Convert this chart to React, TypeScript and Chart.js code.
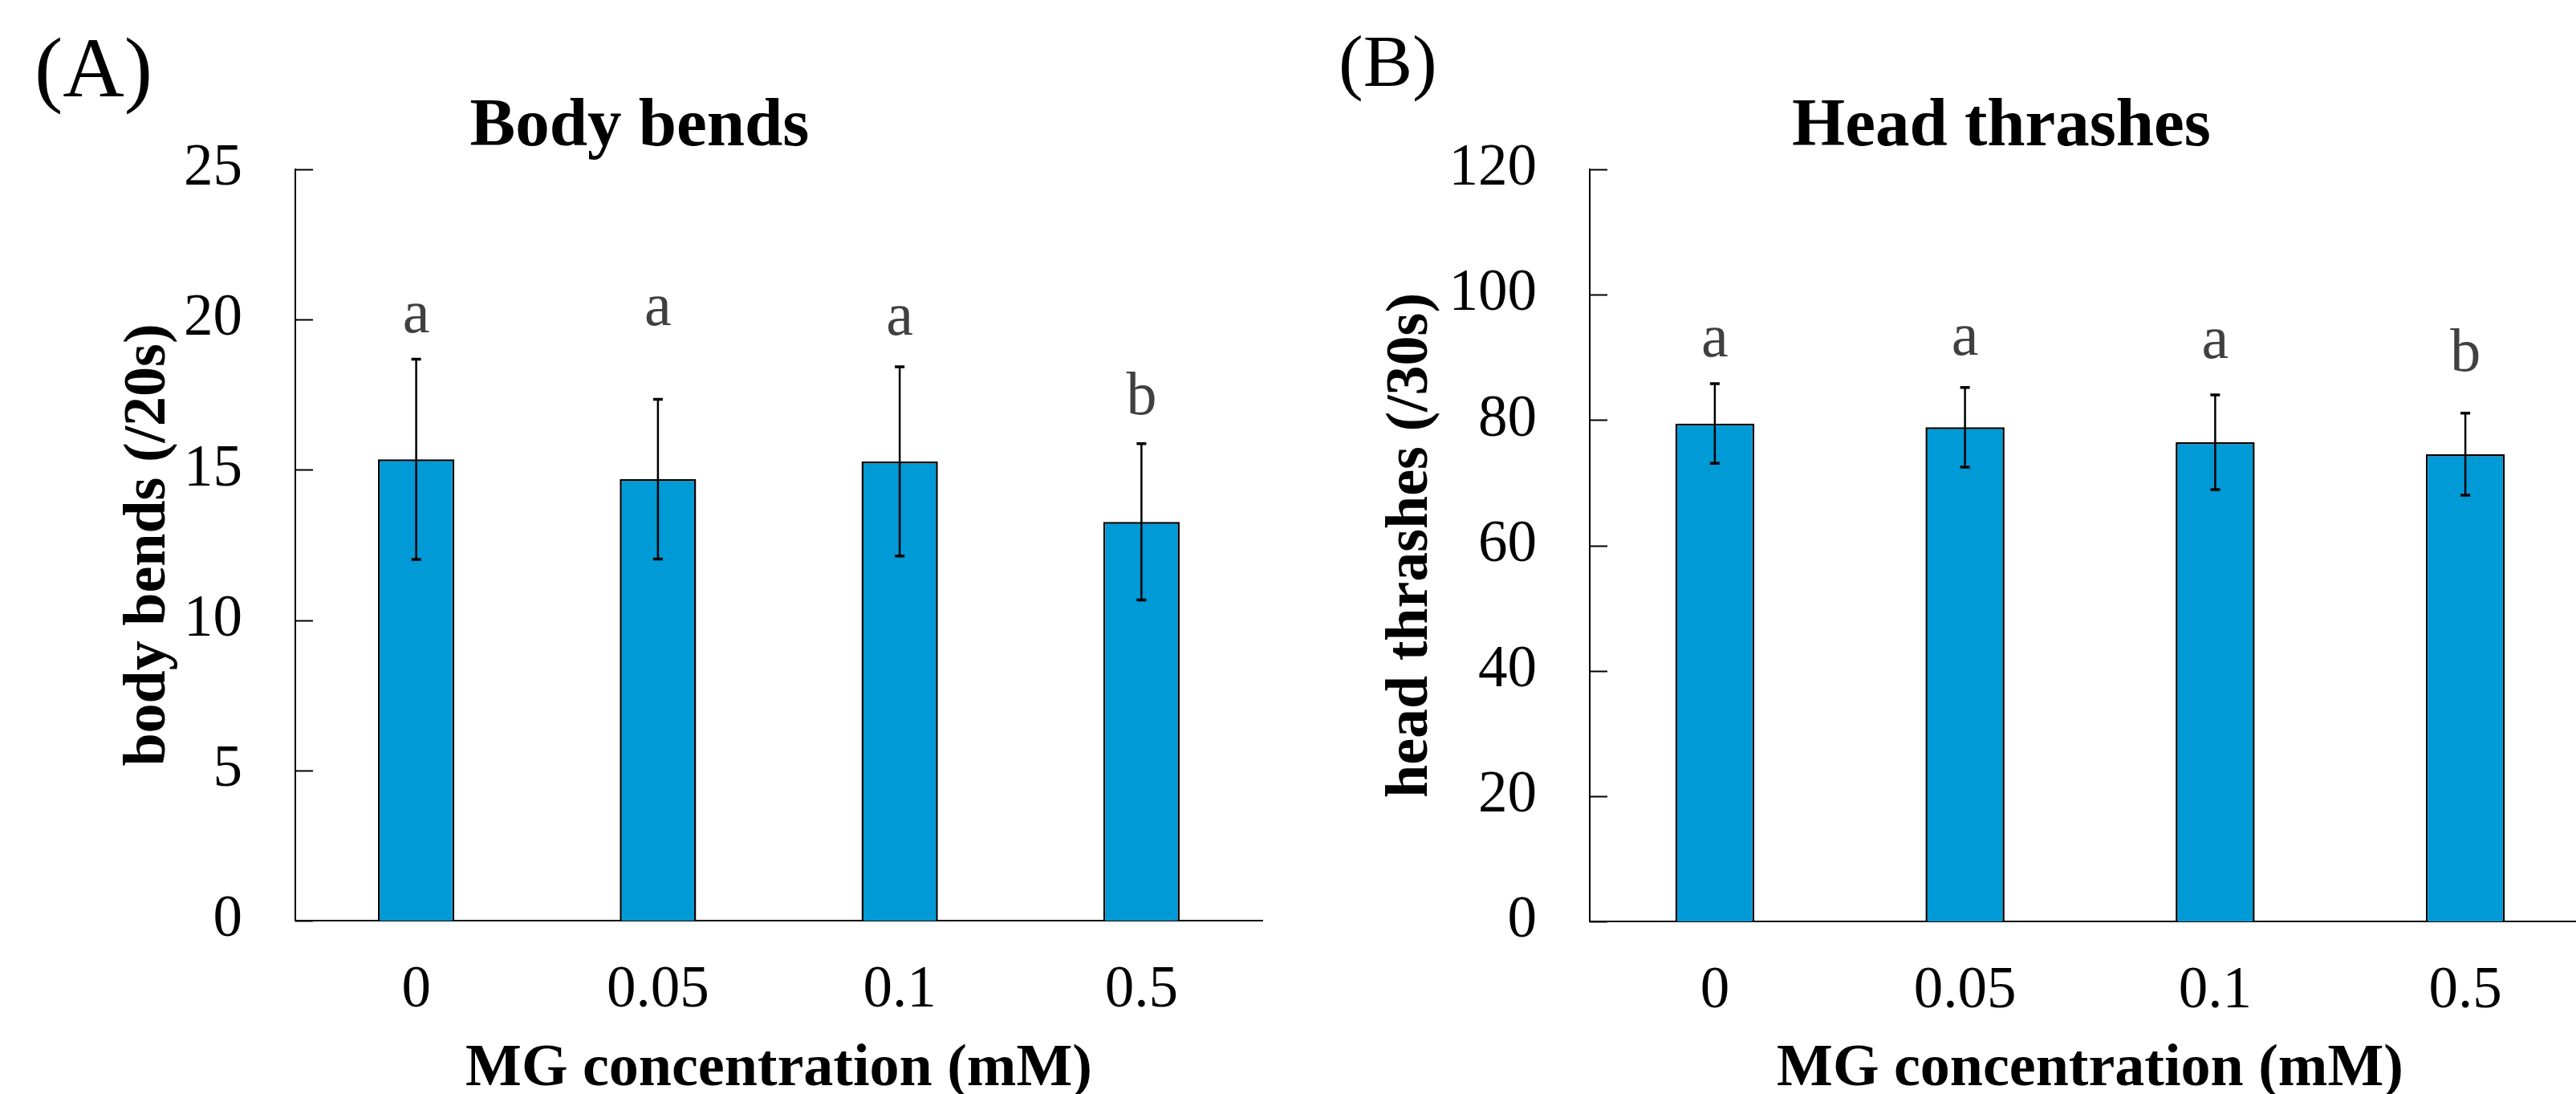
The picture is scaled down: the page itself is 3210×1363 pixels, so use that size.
import React, { useEffect, useRef } from 'react';
import { Chart, registerables } from 'chart.js';

Chart.register(...registerables);

// ---------- data ----------
const categories = ['0', '0.05', '0.1', '0.5'];

const bodyBendsMean = [15.35, 14.69, 15.28, 13.27];
const bodyBendsSD = [3.33, 2.66, 3.15, 2.6];
const bodyBendsLetters = ['a', 'a', 'a', 'b'];
const bodyBendsLetterY = [19.58, 19.82, 19.5, 16.85];
const bodyBendsAxis = { min: 0, max: 25, step: 5 };

const headThrashMean = [79.45, 78.85, 76.45, 74.55];
const headThrashSD = [6.35, 6.35, 7.55, 6.55];
const headThrashLetters = ['a', 'a', 'a', 'b'];
const headThrashLetterY = [90.2, 90.4, 89.9, 87.9];
const headThrashAxis = { min: 0, max: 120, step: 20 };

const FONT = '"Liberation Serif", "Times New Roman", Times, serif';
const BAR_COLOR = '#009ad6';

type Panel = {
  width: number;
  height: number;
  areaLeft: number;
  areaRight: number;
  areaTop: number;
  areaBottom: number;
  means: number[];
  sd: number[];
  letters: string[];
  letterY: number[];
  axis: { min: number; max: number; step: number };
  title: string;
  titleX: number;
  panel: string;
  panelX: number;
  panelY: number;
  panelSize: number;
  yTitle: string;
  yTitleX: number;
  xTitle: string;
};

function buildChart(canvas: HTMLCanvasElement, p: Panel) {
  const overlay = {
    id: 'overlay',
    afterDatasetsDraw(chart: any) {
      const ctx = chart.ctx as CanvasRenderingContext2D;
      const xs = chart.scales.x;
      const ys = chart.scales.y;
      const area = chart.chartArea;
      ctx.save();
      ctx.strokeStyle = '#000';
      // error bars
      p.means.forEach((m, i) => {
        const px = xs.getPixelForValue(i);
        const top = ys.getPixelForValue(m + p.sd[i]);
        const bot = ys.getPixelForValue(m - p.sd[i]);
        ctx.lineWidth = 2.5;
        ctx.beginPath();
        ctx.moveTo(px, top);
        ctx.lineTo(px, bot);
        ctx.stroke();
        ctx.lineWidth = 3.5;
        ctx.beginPath();
        ctx.moveTo(px - 6, top);
        ctx.lineTo(px + 6, top);
        ctx.moveTo(px - 6, bot);
        ctx.lineTo(px + 6, bot);
        ctx.stroke();
      });
      // inward tick marks on y axis
      ctx.lineWidth = 2;
      ys.ticks.forEach((t: any) => {
        const py = Math.round(ys.getPixelForValue(t.value)) + 0.5;
        ctx.beginPath();
        ctx.moveTo(area.left, py);
        ctx.lineTo(area.left + 22, py);
        ctx.stroke();
      });
      // significance letters
      ctx.fillStyle = '#404040';
      ctx.font = `76px ${FONT}`;
      ctx.textAlign = 'center';
      ctx.textBaseline = 'alphabetic';
      p.letters.forEach((l, i) => {
        ctx.fillText(l, xs.getPixelForValue(i), ys.getPixelForValue(p.letterY[i]));
      });
      ctx.restore();
    },
    afterDraw(chart: any) {
      const ctx = chart.ctx as CanvasRenderingContext2D;
      const area = chart.chartArea;
      ctx.save();
      ctx.fillStyle = '#000';
      ctx.textBaseline = 'alphabetic';
      // panel label
      ctx.font = `${p.panelSize}px ${FONT}`;
      ctx.textAlign = 'left';
      ctx.fillText(p.panel, p.panelX, p.panelY);
      // title
      ctx.font = `bold 85px ${FONT}`;
      ctx.textAlign = 'center';
      ctx.fillText(p.title, p.titleX, 181);
      // x title
      ctx.font = `bold 74px ${FONT}`;
      ctx.fillText(p.xTitle, (area.left + area.right) / 2, 1352);
      // y title
      ctx.translate(p.yTitleX, (area.top + area.bottom) / 2);
      ctx.rotate(-Math.PI / 2);
      ctx.fillText(p.yTitle, 0, 0);
      ctx.restore();
    },
  };

  return new Chart(canvas, {
    type: 'bar',
    data: {
      labels: categories,
      datasets: [
        {
          data: p.means,
          backgroundColor: BAR_COLOR,
          borderColor: '#000',
          borderWidth: 2.5,
          categoryPercentage: 1,
          barPercentage: 0.316,
        },
      ],
    },
    options: {
      animation: false,
      responsive: false,
      maintainAspectRatio: false,
      devicePixelRatio: 1,
      layout: {
        padding: { top: p.areaTop, left: 0, right: p.width - p.areaRight, bottom: 0 },
      },
      plugins: {
        legend: { display: false },
        tooltip: { enabled: false },
        title: { display: false },
      },
      scales: {
        x: {
          type: 'category',
          offset: true,
          grid: { display: false, drawTicks: false },
          border: { display: true, color: '#000', width: 2 },
          ticks: {
            color: '#000',
            font: { family: FONT, size: 73 },
            padding: 44,
            maxRotation: 0,
            autoSkip: false,
          },
          afterFit: (scale: any) => {
            scale.height = p.height - p.areaBottom;
          },
        },
        y: {
          type: 'linear',
          min: p.axis.min,
          max: p.axis.max,
          grid: { display: false, drawTicks: false },
          border: { display: true, color: '#000', width: 2 },
          ticks: {
            stepSize: p.axis.step,
            color: '#000',
            font: { family: FONT, size: 73 },
            padding: 66,
          },
          afterFit: (scale: any) => {
            scale.width = p.areaLeft;
          },
        },
      },
    },
    plugins: [overlay],
  } as any);
}

export default function App() {
  const leftRef = useRef<HTMLCanvasElement>(null);
  const rightRef = useRef<HTMLCanvasElement>(null);

  useEffect(() => {
    const left = buildChart(leftRef.current!, {
      width: 1600,
      height: 1363,
      areaLeft: 368,
      areaRight: 1573,
      areaTop: 211,
      areaBottom: 1147,
      means: bodyBendsMean,
      sd: bodyBendsSD,
      letters: bodyBendsLetters,
      letterY: bodyBendsLetterY,
      axis: bodyBendsAxis,
      title: 'Body bends',
      titleX: 797,
      panel: '(A)',
      panelX: 43,
      panelY: 120,
      panelSize: 106,
      yTitle: 'body bends (/20s)',
      yTitleX: 205,
      xTitle: 'MG concentration (mM)',
    });
    const right = buildChart(rightRef.current!, {
      width: 1700,
      height: 1363,
      areaLeft: 381,
      areaRight: 1628,
      areaTop: 211,
      areaBottom: 1148,
      means: headThrashMean,
      sd: headThrashSD,
      letters: headThrashLetters,
      letterY: headThrashLetterY,
      axis: headThrashAxis,
      title: 'Head thrashes',
      titleX: 894,
      panel: '(B)',
      panelX: 68,
      panelY: 107,
      panelSize: 92,
      yTitle: 'head thrashes (/30s)',
      yTitleX: 178,
      xTitle: 'MG concentration (mM)',
    });
    return () => {
      left.destroy();
      right.destroy();
    };
  }, []);

  return (
    <div
      style={{
        position: 'fixed',
        left: 0,
        top: 0,
        width: 3210,
        height: 1363,
        overflow: 'hidden',
        background: '#fff',
      }}
    >
      <canvas
        ref={leftRef}
        width={1600}
        height={1363}
        style={{ position: 'absolute', left: 0, top: 0, width: 1600, height: 1363 }}
      />
      <canvas
        ref={rightRef}
        width={1700}
        height={1363}
        style={{ position: 'absolute', left: 1600, top: 0, width: 1700, height: 1363 }}
      />
    </div>
  );
}
